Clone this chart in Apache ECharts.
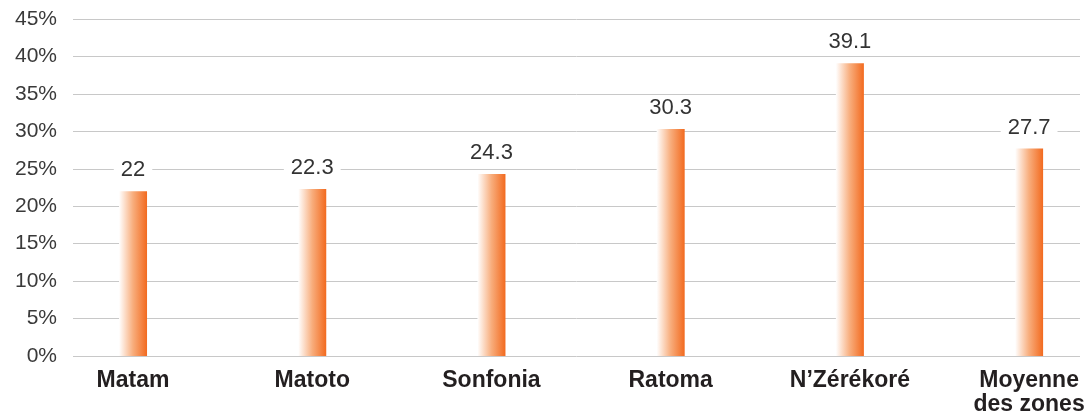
<!DOCTYPE html>
<html>
<head>
<meta charset="utf-8">
<script src="https://cdn.jsdelivr.net/npm/echarts@6/dist/echarts.min.js"></script>
<style>
html,body{margin:0;padding:0;background:#fff;}
#chart{width:1089px;height:419px;}
</style>
</head>
<body>
<div id="chart"></div>
<script>
const categories = ['Matam', 'Matoto', 'Sonfonia', 'Ratoma', 'N\u2019Zérékoré', 'Moyenne\ndes zones'];
const values = [22, 22.3, 24.3, 30.3, 39.1, 27.7];
const yMin = 0, yMax = 45, yStep = 5;

const FONT = '"Liberation Sans", Arial, Helvetica, sans-serif';
const positions = categories.map((c, i) => i);
const chart = echarts.init(document.getElementById('chart'), null, {renderer: 'canvas'});
chart.setOption({
  animation: false,
  backgroundColor: '#ffffff',
  grid: [
    {left: 73, right: 9, top: 19, bottom: 63, containLabel: false}
  ],
  xAxis: [
    {gridIndex: 0, type: 'value', min: -0.335, max: 5.284,
     axisLine: {show: false}, axisTick: {show: false}, splitLine: {show: false},
     axisLabel: {customValues: positions, formatter: v => categories[Math.round(v)],
       color: '#231f20', fontFamily: FONT, fontWeight: 'bold', fontSize: 23, margin: 13, lineHeight: 24,
       showMinLabel: true, showMaxLabel: true, hideOverlap: false}}
  ],
  yAxis: [
    {gridIndex: 0, type: 'value', min: yMin, max: yMax, interval: yStep,
     axisLine: {show: false}, axisTick: {show: false},
     axisLabel: {formatter: '{value}%', color: '#3a3a3a', fontFamily: FONT, fontSize: 21, margin: 16},
     splitLine: {lineStyle: {color: '#c8c8c8', width: 1}}}
  ],
  series: [{
    type: 'bar',
    data: values.map((v, i) => [positions[i], v]),
    barWidth: 28,
    itemStyle: {
      color: new echarts.graphic.LinearGradient(0, 0, 1, 0, [
        {offset: 0, color: '#ffffff'},
        {offset: 0.5, color: '#f8ad7c'},
        {offset: 1, color: '#f26a1f'}
      ])
    },
    label: {
      show: true, position: 'top', distance: 10,
      formatter: p => String(p.value[1]),
      color: '#333333', fontFamily: FONT, fontSize: 22,
      backgroundColor: '#ffffff', padding: [0, 7]
    }
  }]
});
</script>
</body>
</html>
